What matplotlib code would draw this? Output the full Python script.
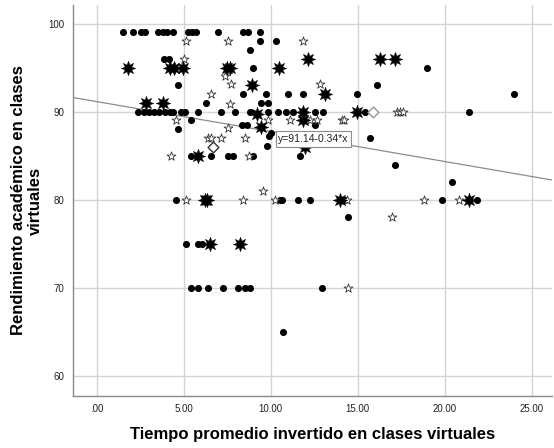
import matplotlib
matplotlib.use("Agg")
import matplotlib.pyplot as plt
import numpy as np

plt.rcParams['font.family'] = ['Liberation Sans', 'DejaVu Sans']

# ---- data ----
circle_x = [1.51, 2.09, 2.55, 2.78, 3.52, 3.81, 4.04, 4.39, 5.25, 5.48, 5.71, 6.97, 8.41, 8.70, 9.39,
            9.39, 10.29,
            8.83,
            3.85, 4.15,
            8.97, 18.97,
            4.69, 16.13,
            8.40, 9.71, 10.98, 11.84, 14.98, 24.0,
            6.28, 9.42, 9.83,
            2.40, 2.70, 3.00, 3.30, 3.60, 3.90, 4.20, 4.40, 4.84, 5.07, 5.84, 7.13, 7.95, 8.81,
            9.83, 10.40, 10.86, 11.30, 12.55, 12.99, 15.42, 21.41,
            5.40,
            8.35, 8.65, 12.55,
            4.69,
            10.0, 9.9, 9.8, 15.7,
            5.40, 6.55, 7.57, 7.82, 8.97, 11.69,
            17.13, 20.4,
            4.56, 10.52, 10.67, 11.55, 12.26, 14.3, 19.86, 21.87,
            14.43,
            5.11, 5.80, 6.07,
            5.40, 5.80, 6.41, 7.24, 8.10, 8.52, 8.81, 12.97,
            10.69]
circle_y = [99] * 15 + \
           [98, 98] + \
           [97] + \
           [96, 96] + \
           [95, 95] + \
           [93, 93] + \
           [92] * 6 + \
           [91] * 3 + \
           [90] * 22 + \
           [89] + \
           [88.5] * 3 + \
           [88] + \
           [87.6, 87.2, 86.1, 87.0] + \
           [85] * 6 + \
           [84, 82] + \
           [80] * 8 + \
           [78] + \
           [75] * 3 + \
           [70] * 8 + \
           [65]

star_x = [5.11, 7.57, 11.84, 5.0, 7.38, 7.7, 12.84, 6.55, 7.66, 17.26, 17.45, 17.6,
          4.56, 9.86, 11.11, 12.26, 12.68, 14.08, 14.2, 7.57, 6.41, 6.57, 7.13, 8.52,
          4.25, 8.77, 9.54, 5.13, 8.39, 10.25, 14.4, 18.83, 20.84, 17.0, 14.43]
star_y = [98, 98, 98, 96, 94, 93.1, 93.1, 92, 90.9, 90, 90, 90,
          89, 89, 89, 89, 89, 89, 89, 88.1, 87, 87, 87, 87,
          85, 85, 81, 80, 80, 80, 80, 80, 80, 78, 70]

big_x = [1.82, 4.21, 4.46, 4.98, 7.47, 7.66, 10.5, 12.12, 16.28, 17.14, 8.94, 13.1,
         2.83, 3.79, 9.23, 9.42, 11.84, 11.84, 14.98, 12.0, 5.84, 6.2, 6.35, 13.98,
         21.41, 6.51, 8.24]
big_y = [95, 95, 95, 95, 95, 95, 95, 96, 96, 96, 93, 92,
         91, 91, 89.7, 88.2, 90, 89, 90, 86.0, 85, 80, 80, 80,
         80, 75, 75]

diamond_x = [6.7, 15.9]
diamond_y = [86.0, 90.0]
diamond_edge = ['#333333', '#999999']

intercept = 91.14
slope = -0.34
fit_label = "y=91.14-0.34*x"

xticks = [0, 5, 10, 15, 20, 25]
xtick_labels = [".00", "5.00", "10.00", "15.00", "20.00", "25.00"]
yticks = [60, 70, 80, 90, 100]
ytick_labels = ["60", "70", "80", "90", "100"]

x_title = "Tiempo promedio invertido en clases virtuales"
y_title = "Rendimiento académico en clases\nvirtuales"

# ---- figure ----
fig = plt.figure(figsize=(5.54, 4.48), dpi=100)
ax = fig.add_axes([0.1312, 0.1161, 0.8652, 0.8727])
xlim = (-1.38, 26.17)
ylim = (57.73, 102.1)
ax.set_xlim(*xlim)
ax.set_ylim(*ylim)

ax.set_xticks(xticks)
ax.set_xticklabels(xtick_labels, fontsize=7)
ax.set_yticks(yticks)
ax.set_yticklabels(ytick_labels, fontsize=7)
ax.tick_params(length=0, pad=6, colors='#222222')
ax.grid(True, color='#d4d4d4', lw=1.0, zorder=0)
ax.set_axisbelow(True)
for s in ['top', 'right']:
    ax.spines[s].set_visible(False)
for s in ['left', 'bottom']:
    ax.spines[s].set_color('#8a8a8a')
    ax.spines[s].set_linewidth(1.0)

# regression line
lx = np.array(xlim)
ax.plot(lx, intercept + slope * lx, color='#8c8c8c', lw=0.9, zorder=2)

ax.scatter(circle_x, circle_y, s=26, c='black', marker='o', linewidths=0, zorder=3)
ax.scatter(star_x, star_y, s=45, facecolors='white', edgecolors='#333333',
           marker='*', linewidths=0.6, zorder=4)
ax.scatter(big_x, big_y, s=110, c='black', marker=(8, 1, 0), linewidths=0.3,
           edgecolors='black', zorder=4)
for dx, dy, ec in zip(diamond_x, diamond_y, diamond_edge):
    ax.scatter([dx], [dy], s=30, facecolors='white', edgecolors=ec, marker='D',
               linewidths=1.0, zorder=5)

lx_mid = 12.46
ax.text(lx_mid, intercept + slope * lx_mid, fit_label, fontsize=7.5, ha='center', va='center',
        zorder=10, color='#222222',
        bbox=dict(boxstyle='square,pad=0.25', facecolor='white', edgecolor='#8c8c8c', lw=0.8))

ax.set_xlabel(x_title, fontsize=12, fontweight='bold', labelpad=9)
ax.set_ylabel(y_title, fontsize=12, fontweight='bold', labelpad=4, linespacing=1.1)

fig.savefig("out.png", dpi=100)
